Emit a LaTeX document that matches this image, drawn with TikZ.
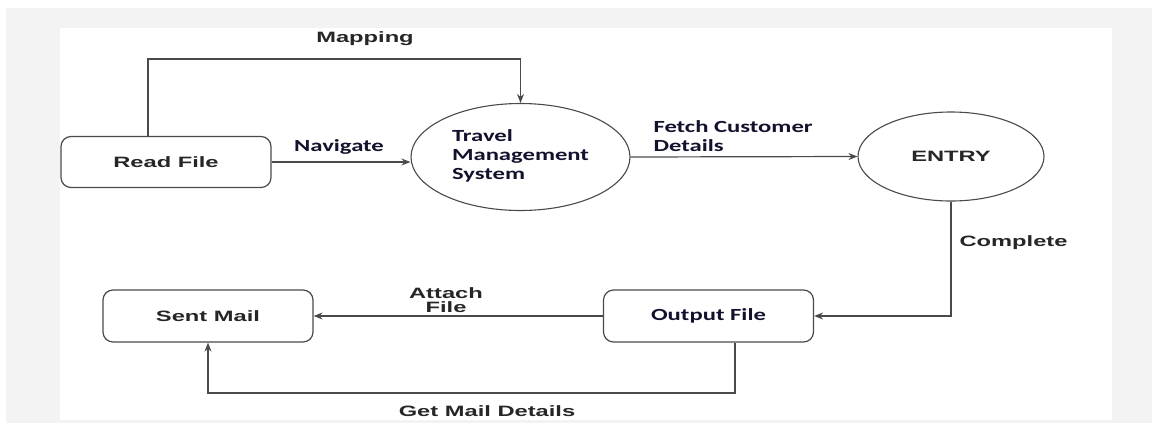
\documentclass[tikz,border=0pt]{standalone}
\usepackage{fontspec}
\usepackage{xcolor}
\usepackage{tikz}
\usetikzlibrary{arrows.meta,positioning,shapes.geometric,calc}
\newfontfamily\widesans[FakeStretch=1.58]{Liberation Sans}
\newfontfamily\widecalib[FakeStretch=1.45]{Carlito}
\definecolor{linegray}{HTML}{4A4A4A}
\definecolor{textgray}{HTML}{262626}
\definecolor{textnavy}{HTML}{12122E}
\definecolor{pagegray}{HTML}{F3F3F3}

\begin{document}
\begin{tikzpicture}[
  x=1pt,y=-1pt,
  sansfont/.style={font=\widesans\bfseries\fontsize{15}{17}\selectfont,text=textgray},
  calibfont/.style={font=\widecalib\bfseries\fontsize{17}{19}\selectfont,text=textnavy},
  procbox/.style={draw=linegray,line width=1.2pt,rounded corners=10pt,
    minimum width=210pt,minimum height=51pt,inner sep=0pt},
  process/.style={ellipse,draw=linegray,line width=1.1pt,inner sep=0pt,align=left},
  flow/.style={-{Stealth[length=9pt,width=7pt]},line width=1.2pt,draw=linegray}
]
\useasboundingbox (0,0) rectangle (1156,426);
% page background and white panel
\fill[pagegray] (6,8) rectangle (1152,423);
\fill[white] (60,28) rectangle (1112,420);

% upper row: read file, system, entry
\node[procbox,sansfont] (readfile) at (166,162) {Read File};
\node[process,calibfont,minimum width=219pt,minimum height=107pt] (tms) at (520.5,157)
  {\mbox{}\\[-9pt]Travel\\Management\\System};
\node[process,sansfont,minimum width=186pt,minimum height=89pt] (entry) at (951,156.5)
  {ENTRY};

% lower row: output file, sent mail
\node[procbox,calibfont,minimum height=52pt] (outfile) at (708.5,316)
  {Output File\hspace{22pt}};
\node[procbox,sansfont,minimum height=52pt] (sentmail) at (208,316) {Sent Mail};

% connectors
\coordinate (maptop) at (148,59);
\coordinate (mailbot) at (735,393);
\draw[flow] (readfile.north -| maptop) -- (maptop) -| (tms.north);
\draw[flow] (readfile.east) -- (readfile.east -| tms.west);
\draw[flow] (tms.east) -- (entry.west);
\draw[flow] (entry.south) |- (outfile.east);
\draw[flow] (outfile.west) -- (sentmail.east);
\draw[flow] (outfile.south -| mailbot) -- (mailbot) -| (sentmail.south);

% connector labels
\node[sansfont] (lmap) at (365,39) {Mapping};
\node[calibfont] (lnav) at (339,147) {Navigate};
\node[calibfont,anchor=west,align=left] (lfetch) at (650,136)
  {Fetch Customer\\Details};
\node[sansfont,anchor=west] (lcomp) at (956,243) {Complete};
\node[sansfont,align=center,font=\widesans\bfseries\fontsize{15}{14}\selectfont]
  (lattach) at (446,300) {Attach\\File};
\node[sansfont] (lmail) at (487,411) {Get Mail Details};
\end{tikzpicture}
\end{document}
